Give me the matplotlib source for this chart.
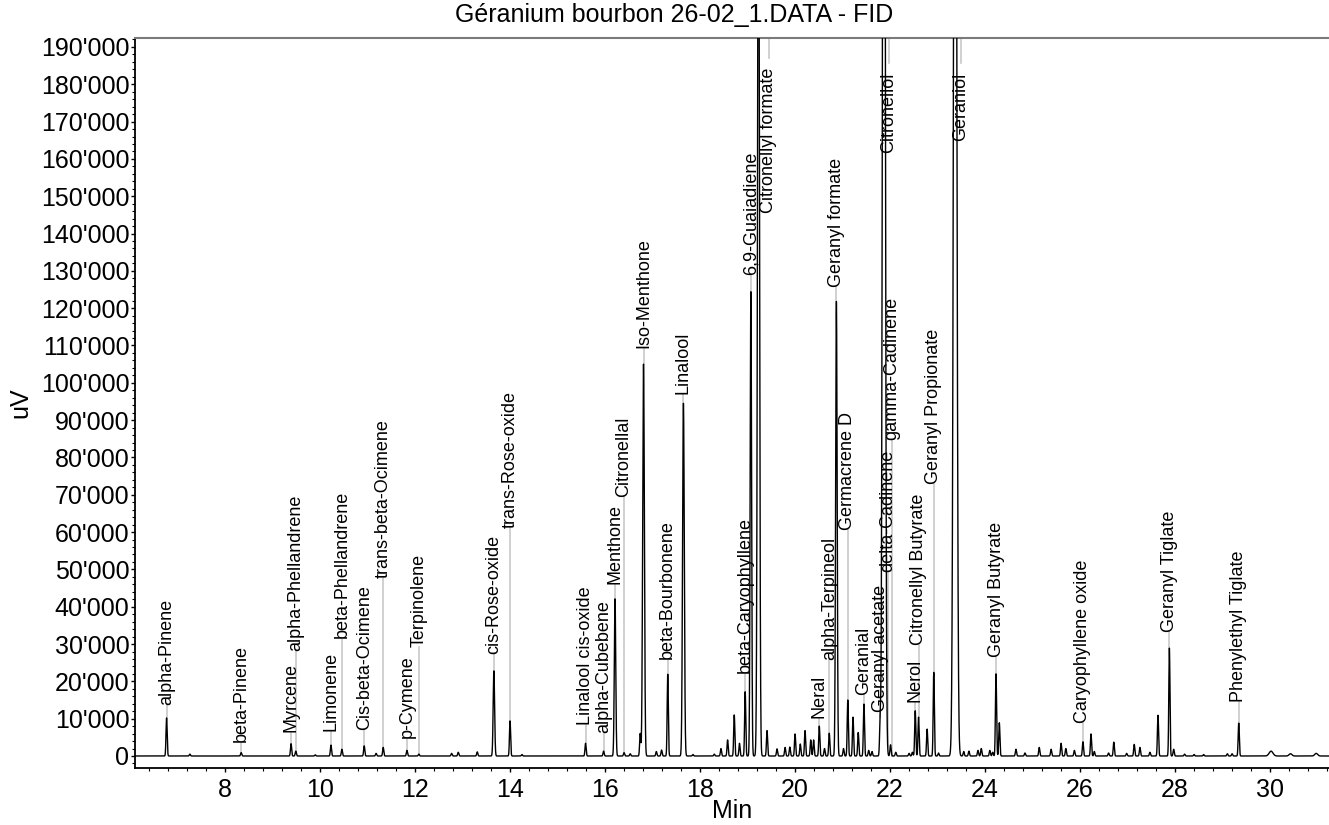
import numpy as np
import matplotlib
matplotlib.use("Agg")
import matplotlib.pyplot as plt
from matplotlib.ticker import MultipleLocator, FuncFormatter

plt.rcParams['font.family'] = ['Liberation Sans', 'DejaVu Sans']

# peaks: retention time (min), height (uV), width (sigma, min)
peak_times = [6.77, 7.26, 8.34, 9.39, 9.49, 9.90, 10.23, 10.46, 10.93, 11.18,
              11.33, 11.83, 12.08, 12.77, 12.91, 13.31, 13.66, 14.00, 14.25, 15.59,
              15.97, 16.21, 16.40, 16.53, 16.74, 16.81, 17.08, 17.19, 17.32, 17.65,
              17.85, 18.30, 18.44, 18.58, 18.72, 18.83, 18.95, 19.07, 19.23, 19.41,
              19.62, 19.79, 19.89, 20.00, 20.11, 20.21, 20.33, 20.39, 20.51, 20.62,
              20.72, 20.87, 21.02, 21.11, 21.22, 21.33, 21.45, 21.55, 21.62, 21.79,
              21.87, 22.01, 22.12, 22.40, 22.47, 22.53, 22.60, 22.78, 22.92, 23.02,
              23.37, 23.55, 23.66, 23.85, 23.92, 24.10, 24.16, 24.23, 24.30, 24.65,
              24.84, 25.14, 25.39, 25.60, 25.70, 25.88, 26.06, 26.23, 26.30, 26.60,
              26.71, 26.98, 27.14, 27.26, 27.47, 27.64, 27.88, 27.97, 28.20, 28.40,
              28.60, 29.10, 29.20, 29.34, 30.02, 30.43, 30.97]
peak_heights = [10200, 500, 900, 3300, 1300, 300, 2900, 1800, 2700, 700,
                2300, 1500, 500, 700, 1000, 1100, 22800, 9400, 400, 3400,
                1300, 42100, 900, 600, 6000, 105000, 1200, 1600, 21900, 94500,
                400, 500, 2000, 4300, 11000, 3400, 17200, 124400, 260000, 6800,
                1900, 2300, 2400, 5900, 3200, 6800, 4300, 4300, 8000, 2000,
                6100, 121800, 2000, 15000, 10400, 6300, 13900, 1500, 1200, 8000,
                420000, 3000, 1000, 700, 1000, 12100, 10400, 7200, 22400, 800,
                380000, 1200, 1300, 1500, 2000, 1500, 1000, 22000, 8900, 1800,
                800, 2300, 1800, 3400, 2000, 1500, 3800, 5900, 1200, 800,
                3700, 700, 3100, 2300, 1000, 10900, 28900, 1800, 500, 400,
                400, 600, 600, 8800, 1300, 600, 700]
peak_sigmas = {13.66: 0.015, 16.21: 0.015, 16.81: 0.018, 17.65: 0.018,
               19.07: 0.015, 19.23: 0.02, 20.87: 0.016, 21.87: 0.025,
               23.37: 0.03, 30.02: 0.04, 30.43: 0.03, 30.97: 0.03}

# labelled compounds: name, time of the leader line, bottom of the label (uV)
label_names = ["alpha-Pinene", "beta-Pinene", "Myrcene", "alpha-Phellandrene", "Limonene",
               "beta-Phellandrene", "Cis-beta-Ocimene", "trans-beta-Ocimene", "p-Cymene",
               "Terpinolene", "cis-Rose-oxide", "trans-Rose-oxide", "Linalool cis-oxide",
               "alpha-Cubebene", "Menthone", "Citronellal", "Iso-Menthone", "beta-Bourbonene",
               "Linalool", "beta-Caryophyllene", "6,9-Guaiadiene", "Citronellyl formate",
               "Neral", "alpha-Terpineol", "Geranyl formate", "Germacrene D", "Geranial",
               "Geranyl acetate", "Citronellol", "delta-Cadinene", "gamma-Cadinene", "Nerol",
               "Citronellyl Butyrate", "Geranyl Propionate", "Geraniol", "Geranyl Butyrate",
               "Caryophyllene oxide", "Geranyl Tiglate", "Phenylethyl Tiglate"]
label_times = [6.77, 8.34, 9.39, 9.49, 10.23, 10.46, 10.93, 11.33, 11.83, 12.08,
               13.66, 14.00, 15.59, 15.97, 16.21, 16.40, 16.81, 17.32, 17.65, 18.95,
               19.07, 19.45, 20.51, 20.72, 20.87, 21.11, 21.45, 21.79, 21.98, 21.95,
               22.04, 22.53, 22.60, 22.92, 23.49, 24.23, 26.06, 27.88, 29.34]
label_y = [13700, 3800, 6500, 28200, 6700, 31600, 7000, 47700, 4900, 29300,
           27300, 61100, 8300, 6100, 46000, 69500, 109300, 25900, 97000, 22200,
           128900, 184500, 10100, 25700, 125800, 60600, 16300, 11900, 183200, 49400,
           84700, 14600, 29700, 73000, 183200, 26600, 8900, 33100, 14400]
# off-scale peaks get their label hanging from the top of the plot
off_scale = ["Citronellyl formate", "Citronellol", "Geraniol"]

t = np.arange(6.0, 31.4, 0.002)
signal = np.zeros_like(t)
for rt, h in zip(peak_times, peak_heights):
    s = peak_sigmas.get(rt, 0.012)
    signal += h * np.exp(-0.5 * ((t - rt) / s) ** 2)

fig = plt.figure(figsize=(13.29, 8.25), dpi=100)
ax = fig.add_axes([135 / 1329, 57 / 825, 1194 / 1329, 730 / 825])

ymax = 192400
ax.plot(t, signal, color='black', lw=1.0, zorder=3)

for name, lt, ly in zip(label_names, label_times, label_y):
    if name in off_scale:
        ax.plot([lt, lt], [ymax, ly + 2500], color='#c8c8c8', lw=1.2, zorder=2)
        ax.text(lt, ly, name, rotation=90, ha='center', va='top', fontsize=13, zorder=4)
    else:
        peak_top = np.interp(lt, t, signal)
        ax.plot([lt, lt], [peak_top, ly], color='#c8c8c8', lw=1.2, zorder=2)
        ax.text(lt, ly, name, rotation=90, ha='center', va='bottom', fontsize=13, zorder=4)

ax.set_xlim(6.105, 31.24)
ax.set_ylim(-3217, ymax)

ax.xaxis.set_major_locator(MultipleLocator(2))
ax.xaxis.set_minor_locator(MultipleLocator(0.4))
ax.yaxis.set_major_locator(MultipleLocator(10000))
ax.yaxis.set_minor_locator(MultipleLocator(2000))
ax.yaxis.set_major_formatter(FuncFormatter(lambda v, p: f"{int(round(v)):,}".replace(",", "'")))

ax.tick_params(axis='both', which='major', labelsize=18, length=3, width=1)
ax.tick_params(axis='x', which='major', pad=4)
ax.tick_params(axis='y', which='major', pad=1)
ax.tick_params(axis='both', which='minor', length=2, width=0.8)

ax.spines['right'].set_visible(False)
ax.spines['top'].set_color('#7a7a7a')
ax.spines['top'].set_linewidth(1.5)
ax.spines['left'].set_linewidth(1.3)
ax.spines['bottom'].set_linewidth(1.3)

ax.set_xlabel("Min", fontsize=18)
ax.xaxis.set_label_coords(0.5, -0.043)
ax.set_ylabel("uV", fontsize=18)
ax.yaxis.set_label_coords(-0.086, 0.5)

fig.text(674.5 / 1329, 1 - 15 / 825, "Géranium bourbon 26-02_1.DATA - FID",
         ha='center', va='center', fontsize=18)

fig.savefig("out.png", dpi=100)
